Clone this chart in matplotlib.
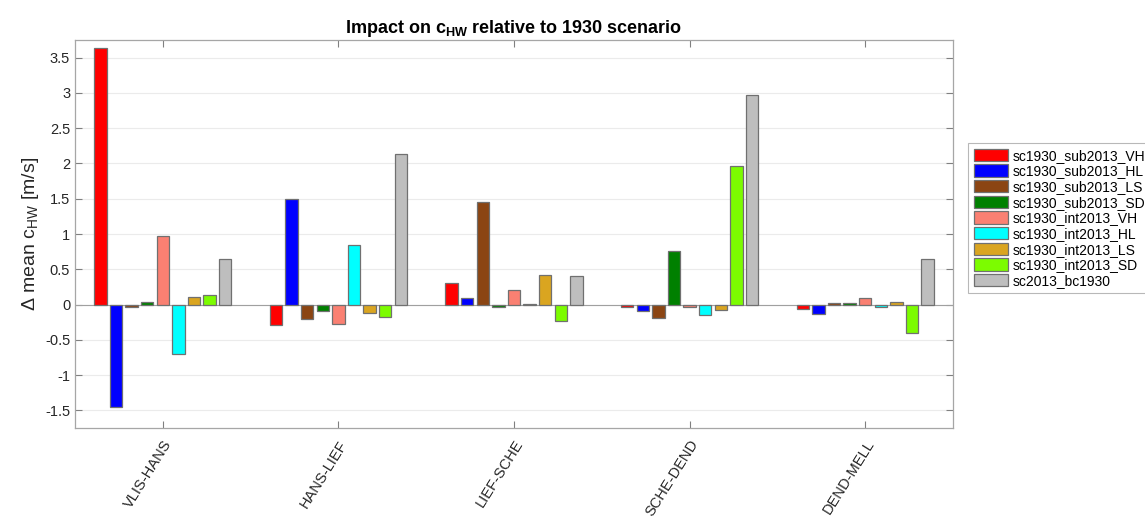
import matplotlib
matplotlib.use("Agg")
import matplotlib.pyplot as plt
import numpy as np

plt.rcParams['font.family'] = ['Liberation Sans', 'DejaVu Sans']

categories = ["VLIS-HANS", "HANS-LIEF", "LIEF-SCHE", "SCHE-DEND", "DEND-MELL"]
series_names = ["sc1930_sub2013_VH", "sc1930_sub2013_HL", "sc1930_sub2013_LS",
                "sc1930_sub2013_SD", "sc1930_int2013_VH", "sc1930_int2013_HL",
                "sc1930_int2013_LS", "sc1930_int2013_SD", "sc2013_bc1930"]
colors = ["#ff0000", "#0000ff", "#8b4513", "#008000", "#fa8072",
          "#00ffff", "#daa520", "#7cfc00", "#bebebe"]

sc1930_sub2013_VH = [3.64, -0.29, 0.30, -0.04, -0.065]
sc1930_sub2013_HL = [-1.45, 1.50, 0.095, -0.085, -0.13]
sc1930_sub2013_LS = [-0.04, -0.21, 1.45, -0.185, 0.02]
sc1930_sub2013_SD = [0.04, -0.085, -0.04, 0.76, 0.025]
sc1930_int2013_VH = [0.97, -0.275, 0.20, -0.04, 0.09]
sc1930_int2013_HL = [-0.70, 0.85, 0.01, -0.145, -0.04]
sc1930_int2013_LS = [0.11, -0.12, 0.42, -0.08, 0.035]
sc1930_int2013_SD = [0.14, -0.17, -0.23, 1.97, -0.41]
sc2013_bc1930 = [0.65, 2.13, 0.40, 2.97, 0.645]

series = [sc1930_sub2013_VH, sc1930_sub2013_HL, sc1930_sub2013_LS,
          sc1930_sub2013_SD, sc1930_int2013_VH, sc1930_int2013_HL,
          sc1930_int2013_LS, sc1930_int2013_SD, sc2013_bc1930]

yticks = [-1.5, -1, -0.5, 0, 0.5, 1, 1.5, 2, 2.5, 3, 3.5]
ytick_labels = ["-1.5", "-1", "-0.5", "0", "0.5", "1", "1.5", "2", "2.5", "3", "3.5"]

fig = plt.figure(figsize=(11.45, 5.2), dpi=100)
ax = fig.add_axes([75/1145, 1-428/520, (953-75)/1145, (428-40)/520])

n = len(series)
x = np.arange(1, len(categories) + 1)
group_w = 0.8
step = group_w / n
bar_w = step * 0.8
for i, (vals, name, c) in enumerate(zip(series, series_names, colors)):
    off = -group_w/2 + step*(i + 0.5)
    ax.bar(x + off, vals, width=bar_w, color=c, edgecolor="#707070",
           linewidth=0.9, label=name, zorder=3)

ax.axhline(0, color="#a0a0a0", lw=0.8, zorder=2)
ax.set_xlim(0.5, 5.5)
ax.set_ylim(-1.75, 3.75)
ax.set_yticks(yticks)
ax.set_yticklabels(ytick_labels)
ax.set_xticks(x)
ax.set_xticklabels(categories, rotation=58, ha='right', rotation_mode='anchor')
ax.tick_params(axis='both', direction='in', top=True, right=True, length=5,
               color="#808080", labelsize=10.5, labelcolor="#262626", width=0.8)
ax.tick_params(axis='x', pad=7, labelsize=10.5)
ax.yaxis.grid(True, color="#ebebeb", lw=0.8, zorder=0)
for s in ax.spines.values():
    s.set_color("#a6a6a6")
    s.set_linewidth(0.9)

ax.set_title("Impact on c$_{\\mathregular{HW}}$ relative to 1930 scenario",
             fontsize=13, fontweight='bold', pad=5)
ax.set_ylabel("Δ mean c$_{\\mathregular{HW}}$ [m/s]", fontsize=14,
              color="#262626", labelpad=3)

leg = fig.legend(loc='upper left', bbox_to_anchor=(968/1145, 1-143/520),
                 fontsize=10, frameon=True, fancybox=False, edgecolor="#a6a6a6",
                 handlelength=2.5, handleheight=1.0, labelspacing=0.12,
                 handletextpad=0.3, borderpad=0.4, borderaxespad=0)
leg.get_frame().set_linewidth(0.8)

fig.savefig("out.png", dpi=100)
